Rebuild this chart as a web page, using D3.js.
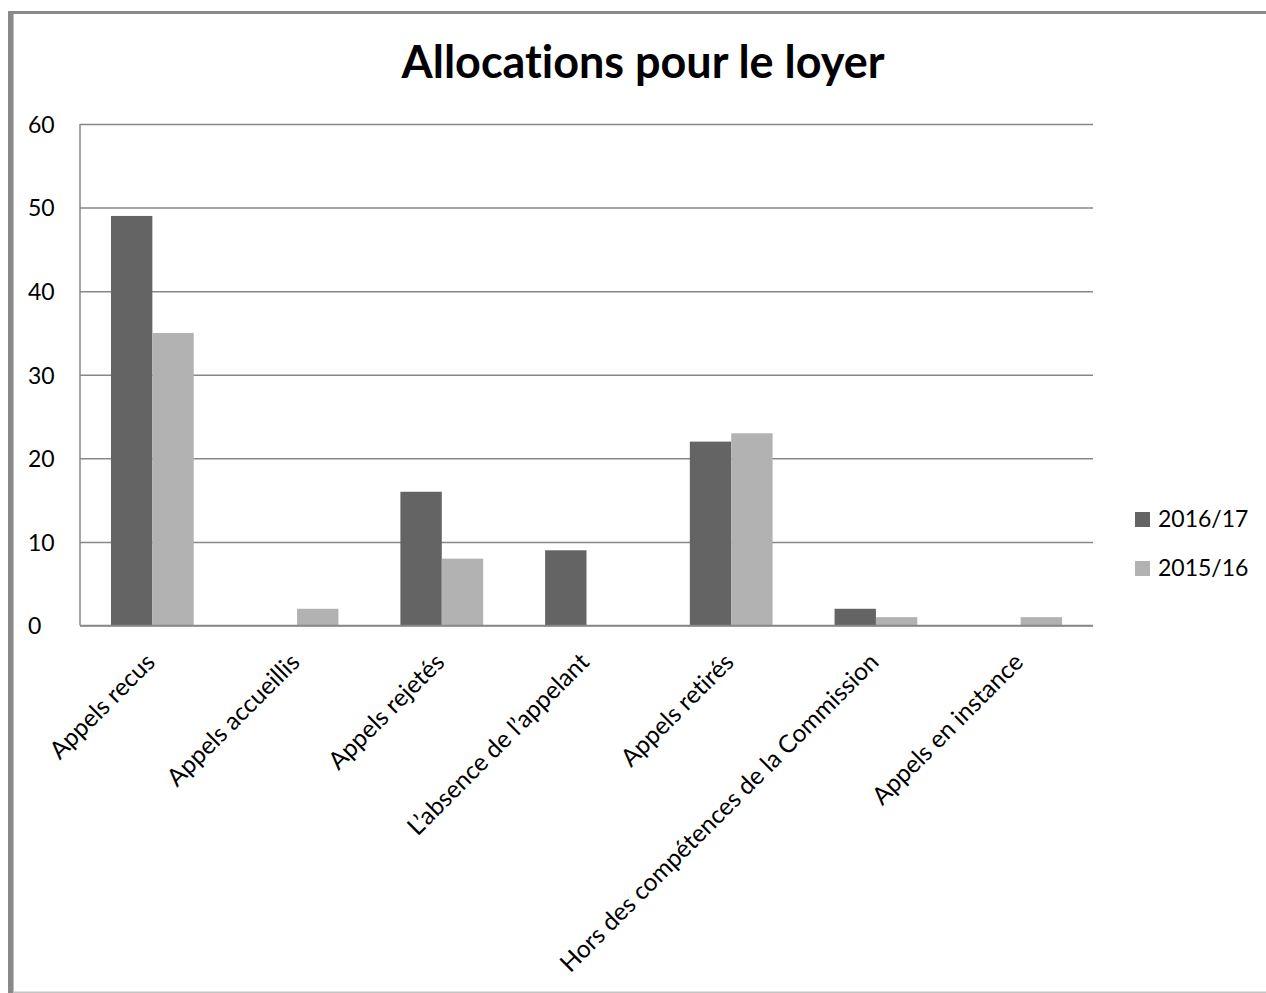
<!DOCTYPE html>
<html>
<head>
<meta charset="utf-8">
<script src="https://cdn.jsdelivr.net/npm/d3@7"></script>
<style>
  html, body { margin: 0; padding: 0; background: #fff; }
  svg { display: block; }
  text { font-family: Lato, "Open Sans", sans-serif; fill: #000; font-variant-ligatures: none; }
</style>
</head>
<body>
<svg id="chart" width="1266" height="993"></svg>
<script>
// Appeals for rent allowances, by outcome, two fiscal years
const categories = [
  "Appels recus",
  "Appels accueillis",
  "Appels rejetés",
  "L\u2019absence de l\u2019appelant",
  "Appels retirés",
  "Hors des compétences de la Commission",
  "Appels en instance"
];
const seriesNames = ["2016/17", "2015/16"];
const values2016_17 = [49, 0, 16, 9, 22, 2, 0];
const values2015_16 = [35, 2, 8, 0, 23, 1, 1];
const yTicks = [0, 10, 20, 30, 40, 50, 60];
const colors = ["#646464", "#b2b2b2"];

const svg = d3.select("#chart");
const W = 1266, H = 993;

// outer frame: heavy left and top edges, light bottom edge
svg.append("rect").attr("x", 8).attr("y", 11).attr("width", W - 8).attr("height", 3).attr("fill", "#8a8a8a");
svg.append("rect").attr("x", 8).attr("y", 11).attr("width", 5).attr("height", H - 11).attr("fill", "#8a8a8a");
svg.append("rect").attr("x", 13).attr("y", 14).attr("width", 1).attr("height", H - 14).attr("fill", "#bdbdbd");
svg.append("rect").attr("x", 13).attr("y", H - 1.5).attr("width", W - 13).attr("height", 1.5).attr("fill", "#c4c4c4");

const plot = { left: 80, right: 1093, top: 124, bottom: 625.5 };

const x0 = d3.scaleBand().domain(categories).range([plot.left, plot.right]).paddingInner(0).paddingOuter(0);
const bandPad = 0.214; // fraction of band left empty on each side
const x1 = d3.scaleBand().domain(seriesNames)
  .range([x0.bandwidth() * bandPad, x0.bandwidth() * (1 - bandPad)]);
const y = d3.scaleLinear().domain([0, 60]).range([plot.bottom, plot.top]);

// horizontal gridlines and value labels
const yAxis = d3.axisLeft(y).tickValues(yTicks).tickSize(-(plot.right - plot.left)).tickFormat(d3.format("d"));
const gy = svg.append("g").attr("transform", `translate(${plot.left},0)`).call(yAxis);
gy.select(".domain").remove();
gy.selectAll(".tick line").attr("stroke", "#878787").attr("stroke-width", 1.5);
gy.selectAll(".tick text").attr("font-size", 23).attr("fill", "#000").attr("dy", "0.36em").attr("text-anchor", "start")
  .attr("x", -52);

// vertical axis line
svg.append("line").attr("x1", plot.left).attr("x2", plot.left).attr("y1", plot.top).attr("y2", plot.bottom)
  .attr("stroke", "#878787").attr("stroke-width", 1.5);

// bars
const rows = categories.map((c, i) => ({ cat: c, vals: [values2016_17[i], values2015_16[i]] }));
const groups = svg.append("g").selectAll("g").data(rows).join("g")
  .attr("transform", d => `translate(${x0(d.cat)},0)`);
groups.selectAll("rect").data(d => d.vals.map((v, k) => ({ key: seriesNames[k], v, k })))
  .join("rect")
  .attr("x", d => x1(d.key))
  .attr("width", x1.bandwidth())
  .attr("y", d => y(d.v))
  .attr("height", d => y(0) - y(d.v))
  .attr("fill", d => colors[d.k]);

// baseline
svg.append("line").attr("x1", plot.left).attr("x2", plot.right).attr("y1", plot.bottom).attr("y2", plot.bottom)
  .attr("stroke", "#878787").attr("stroke-width", 1.5);

// category labels, rotated
const xAxis = d3.axisBottom(x0).tickSize(0).tickPadding(0);
const gx = svg.append("g").attr("transform", `translate(0,${plot.bottom})`).call(xAxis);
gx.select(".domain").remove();
gx.selectAll(".tick text")
  .attr("font-size", 24.5)
  .attr("fill", "#000")
  .attr("text-anchor", "end")
  .attr("transform", "translate(-8,26) rotate(-45)")
  .attr("x", 0).attr("y", 0).attr("dy", "0.7em");

// title
const title = svg.append("text").attr("x", 643).attr("y", 78).attr("text-anchor", "middle")
  .attr("font-weight", "bold").attr("font-size", 40).text("Allocations pour le loyer");
const tw = title.node().getComputedTextLength();
title.attr("font-size", 40 * 483 / tw);

// legend
const legend = svg.append("g").selectAll("g").data(seriesNames).join("g")
  .attr("transform", (d, i) => `translate(1135,${512 + i * 49})`);
legend.append("rect").attr("width", 15).attr("height", 15).attr("fill", (d, i) => colors[i]);
legend.append("text").attr("x", 23).attr("y", 15).attr("font-size", 23).text(d => d);
</script>
</body>
</html>
